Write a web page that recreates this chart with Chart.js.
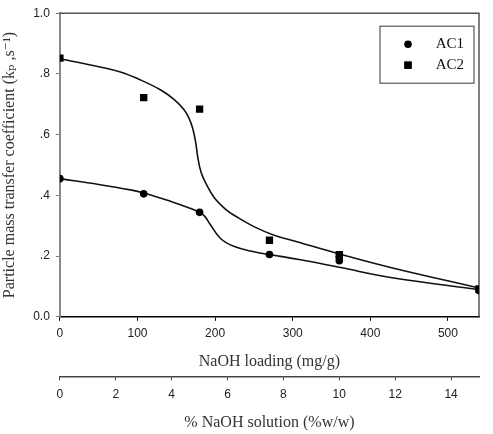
<!DOCTYPE html>
<html>
<head>
<meta charset="utf-8">
<script src="https://cdn.jsdelivr.net/npm/chart.js@4.4.1/dist/chart.umd.min.js"></script>
<style>
  html, body { margin: 0; padding: 0; background: #fff; }
  #wrap { width: 493px; height: 434px; }
</style>
</head>
<body>
<div id="wrap"><canvas id="chart-kp"></canvas></div>
<script>
// Pontos medidos
const ac1_x = [0, 108, 180, 270, 360, 360, 540];
const ac1_y = [0.455, 0.405, 0.344, 0.205, 0.197, 0.185, 0.087];
const ac2_x = [0, 108, 180, 270, 360, 540];
const ac2_y = [0.852, 0.722, 0.684, 0.252, 0.205, 0.092];

// Curvas ajustadas
const fit1_x = [0, 50, 91, 108, 143, 165, 180, 187, 194, 207, 224, 250, 270, 310, 360, 430, 540];
const fit1_y = [0.455, 0.436, 0.418, 0.408, 0.38, 0.36, 0.344, 0.33, 0.303, 0.258, 0.232, 0.214, 0.205, 0.188, 0.163, 0.128, 0.09];
const fit2_x = [0, 53, 78, 104, 130, 147, 160, 166, 171, 175, 178, 182, 188, 199, 214, 226, 250, 276, 310, 360, 430, 540];
const fit2_y = [0.85, 0.822, 0.806, 0.78, 0.747, 0.716, 0.682, 0.656, 0.622, 0.574, 0.52, 0.475, 0.44, 0.392, 0.353, 0.332, 0.297, 0.269, 0.244, 0.207, 0.16, 0.095];

const labels_series = ['AC1', 'AC2'];
const x_ticks = [0, 100, 200, 300, 400, 500];
const x2_ticks = [0, 2, 4, 6, 8, 10, 12, 14];
const y_ticks = [0, 0.2, 0.4, 0.6, 0.8, 1.0];

const toPts = (xs, ys) => xs.map((x, i) => ({ x: x, y: ys[i] }));

const serif = "'Liberation Serif', 'DejaVu Serif', serif";
const sans = "'Liberation Sans', Arial, sans-serif";

// Moldura superior e direita
const frame = {
  id: 'frame',
  beforeDatasetsDraw(chart) {
    const a = chart.chartArea, ctx = chart.ctx;
    ctx.save();
    ctx.strokeStyle = '#555';
    ctx.lineWidth = 1.5;
    ctx.beginPath();
    ctx.moveTo(a.left, a.top);
    ctx.lineTo(a.right, a.top);
    ctx.lineTo(a.right, a.bottom);
    ctx.stroke();
    ctx.restore();
  }
};

// Legenda dentro da área do gráfico
const boxLegend = {
  id: 'boxLegend',
  afterDatasetsDraw(chart) {
    const a = chart.chartArea, ctx = chart.ctx;
    const w = 94, h = 57;
    const x0 = a.right - 5 - w, y0 = a.top + 13;
    ctx.save();
    ctx.fillStyle = '#fff';
    ctx.fillRect(x0, y0, w, h);
    ctx.strokeStyle = '#555';
    ctx.lineWidth = 1.2;
    ctx.strokeRect(x0, y0, w, h);
    ctx.font = '15px ' + serif;
    ctx.textBaseline = 'middle';
    ctx.textAlign = 'right';
    chart.data.datasets.filter(d => d.inLegend).forEach((d, i) => {
      const cy = y0 + 18 + i * 21;
      Chart.helpers.drawPoint(ctx, {
        pointStyle: d.pointStyle, radius: d.pointRadius, rotation: 0, borderWidth: 0
      }, x0 + 28, cy);
      ctx.fillStyle = '#000';
      ctx.fill();
      ctx.fillStyle = '#111';
      ctx.fillText(d.label, x0 + w - 10, cy);
    });
    ctx.restore();
  }
};

const data_kp = {
  datasets: [
    {
      label: labels_series[0],
      inLegend: true,
      data: toPts(ac1_x, ac1_y),
      pointStyle: 'circle',
      pointRadius: 3.8,
      backgroundColor: '#000',
      borderColor: '#000',
      borderWidth: 0,
      showLine: false,
      order: 0,
    },
    {
      label: labels_series[1],
      inLegend: true,
      data: toPts(ac2_x, ac2_y),
      pointStyle: 'rect',
      pointRadius: 5.2,
      backgroundColor: '#000',
      borderColor: '#000',
      borderWidth: 0,
      showLine: false,
      order: 0,
    },
    {
      label: 'fit AC1',
      data: toPts(fit1_x, fit1_y),
      showLine: true,
      pointRadius: 0,
      borderColor: '#111',
      borderWidth: 1.6,
      tension: 0.4,
      order: 1,
    },
    {
      label: 'fit AC2',
      data: toPts(fit2_x, fit2_y),
      showLine: true,
      pointRadius: 0,
      borderColor: '#111',
      borderWidth: 1.6,
      tension: 0.4,
      order: 1,
    },
  ]
};

const tickFont = { family: sans, size: 12 };
const titleFont = { family: serif, size: 16 };

const config_kp = {
  type: 'scatter',
  data: data_kp,
  options: {
    responsive: true,
    maintainAspectRatio: false,
    animation: false,
    layout: { padding: { top: 6, right: 14, left: 0, bottom: 2 } },
    plugins: {
      legend: { display: false },
      tooltip: { enabled: false },
    },
    scales: {
      x: {
        type: 'linear',
        position: 'bottom',
        min: 0,
        max: 540,
        afterBuildTicks: axis => { axis.ticks = x_ticks.map(v => ({ value: v })); },
        ticks: { font: tickFont, color: '#222', padding: 6, maxRotation: 0 },
        grid: { drawOnChartArea: false, drawTicks: true, tickLength: 4, color: '#000' },
        border: { color: '#000', width: 1.5 },
        title: { display: true, text: 'NaOH loading (mg/g)', font: titleFont, color: '#333', padding: { top: 5, bottom: 5 } },
      },
      x2: {
        type: 'linear',
        position: 'bottom',
        min: 0,
        max: 15,
        afterBuildTicks: axis => { axis.ticks = x2_ticks.map(v => ({ value: v })); },
        ticks: { font: tickFont, color: '#222', padding: 7, maxRotation: 0 },
        grid: { drawOnChartArea: false, drawTicks: true, tickLength: 4, color: '#444' },
        border: { color: '#444', width: 1.5 },
        title: { display: true, text: '% NaOH solution (%w/w)', font: titleFont, color: '#333', padding: { top: 4, bottom: 0 } },
      },
      y: {
        min: 0,
        max: 1,
        afterBuildTicks: axis => { axis.ticks = y_ticks.map(v => ({ value: v })); },
        ticks: {
          font: tickFont,
          color: '#222',
          padding: 6,
          callback: v => (v === 0 || v === 1) ? v.toFixed(1) : v.toFixed(1).replace(/^0/, ''),
        },
        grid: { drawOnChartArea: false, drawTicks: true, tickLength: 4, color: '#777' },
        border: { color: '#888', width: 2 },
        title: { display: true, text: 'Particle mass transfer coefficient (kₚ ,s⁻¹)', font: titleFont, color: '#333', padding: { top: 0, bottom: 8 } },
      },
    },
  },
  plugins: [frame, boxLegend],
};

const myChart_kp = new Chart(
  document.getElementById('chart-kp'),
  config_kp
);
</script>
</body>
</html>
